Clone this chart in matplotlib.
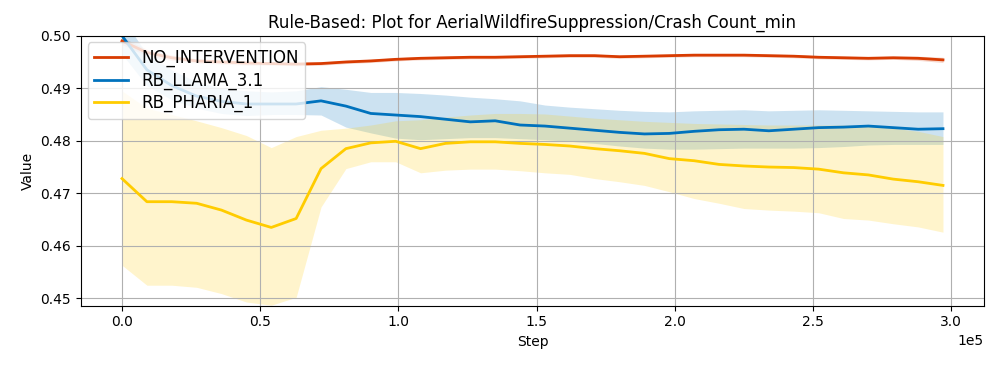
import numpy as np
import matplotlib.pyplot as plt

steps = np.arange(34) * 9000

# NO_INTERVENTION
no_mean = [0.4990, 0.4968, 0.4958, 0.4952, 0.4950, 0.4948, 0.4947, 0.4946, 0.4947, 0.4950,
           0.4952, 0.4955, 0.4957, 0.4958, 0.4959, 0.4959, 0.4960, 0.4961, 0.4962, 0.4962,
           0.4960, 0.4961, 0.4962, 0.4963, 0.4963, 0.4963, 0.4962, 0.4961, 0.4959, 0.4958,
           0.4957, 0.4958, 0.4957, 0.4954]
no_band = [0.0007, 0.0006, 0.0005, 0.0004, 0.0004, 0.0004, 0.0003, 0.0003, 0.0003, 0.0003,
           0.0003, 0.0003, 0.0003, 0.0003, 0.0003, 0.0003, 0.0003, 0.0003, 0.0003, 0.0003,
           0.0003, 0.0003, 0.0003, 0.0003, 0.0003, 0.0003, 0.0003, 0.0003, 0.0003, 0.0003,
           0.0003, 0.0003, 0.0004, 0.0005]

# RB_LLAMA_3.1
llama_mean = [0.5000, 0.4935, 0.4905, 0.4885, 0.4875, 0.4870, 0.4870, 0.4870, 0.4876, 0.4866,
              0.4852, 0.4849, 0.4846, 0.4841, 0.4836, 0.4838, 0.4830, 0.4828, 0.4824, 0.4820,
              0.4816, 0.4813, 0.4814, 0.4818, 0.4821, 0.4822, 0.4819, 0.4822, 0.4825, 0.4826,
              0.4828, 0.4825, 0.4822, 0.4823]
llama_low = [0.4965, 0.4905, 0.4878, 0.4862, 0.4852, 0.4848, 0.4850, 0.4850, 0.4849, 0.4826,
             0.4815, 0.4805, 0.4802, 0.4804, 0.4806, 0.4806, 0.4804, 0.4802, 0.4799, 0.4795,
             0.4790, 0.4786, 0.4784, 0.4784, 0.4785, 0.4786, 0.4786, 0.4786, 0.4787, 0.4789,
             0.4792, 0.4793, 0.4793, 0.4793]
llama_high = [0.5035, 0.4965, 0.4935, 0.4912, 0.4900, 0.4895, 0.4893, 0.4895, 0.4903, 0.4898,
              0.4892, 0.4892, 0.4890, 0.4887, 0.4883, 0.4880, 0.4876, 0.4868, 0.4864, 0.4861,
              0.4858, 0.4856, 0.4855, 0.4857, 0.4858, 0.4859, 0.4857, 0.4858, 0.4859, 0.4858,
              0.4857, 0.4856, 0.4855, 0.4855]

# RB_PHARIA_1
pharia_mean = [0.4728, 0.4684, 0.4684, 0.4681, 0.4668, 0.4649, 0.4635, 0.4652, 0.4747, 0.4785,
               0.4796, 0.4799, 0.4785, 0.4795, 0.4798, 0.4798, 0.4795, 0.4793, 0.4790, 0.4785,
               0.4781, 0.4776, 0.4766, 0.4762, 0.4755, 0.4752, 0.4750, 0.4749, 0.4746, 0.4739,
               0.4735, 0.4727, 0.4722, 0.4715]
pharia_low = [0.4563, 0.4525, 0.4525, 0.4521, 0.4509, 0.4493, 0.4487, 0.4502, 0.4674, 0.4747,
              0.4760, 0.4760, 0.4739, 0.4744, 0.4746, 0.4746, 0.4743, 0.4739, 0.4736, 0.4728,
              0.4722, 0.4715, 0.4703, 0.4690, 0.4681, 0.4671, 0.4668, 0.4666, 0.4663, 0.4652,
              0.4649, 0.4642, 0.4636, 0.4626]
pharia_high = [0.4895, 0.4862, 0.4850, 0.4838, 0.4825, 0.4810, 0.4787, 0.4808, 0.4820, 0.4824,
               0.4830, 0.4838, 0.4840, 0.4845, 0.4849, 0.4852, 0.4852, 0.4851, 0.4847, 0.4843,
               0.4840, 0.4837, 0.4835, 0.4833, 0.4832, 0.4831, 0.4830, 0.4830, 0.4830, 0.4830,
               0.4828, 0.4824, 0.4818, 0.4808]

fig = plt.figure(figsize=(9.97, 3.67), dpi=100)
ax = fig.add_axes([0.0812, 0.167, 0.9058, 0.7357])

no_mean = np.array(no_mean)
no_band = np.array(no_band)

ax.plot(steps, no_mean, color='#d83b01', linewidth=2, label='NO_INTERVENTION')
ax.fill_between(steps, no_mean - no_band, no_mean + no_band, color='#d83b01', alpha=0.2, linewidth=0)
ax.plot(steps, llama_mean, color='#0072bd', linewidth=2, label='RB_LLAMA_3.1')
ax.fill_between(steps, llama_low, llama_high, color='#0072bd', alpha=0.2, linewidth=0)
ax.plot(steps, pharia_mean, color='#ffcc00', linewidth=2, label='RB_PHARIA_1')
ax.fill_between(steps, pharia_low, pharia_high, color='#ffcc00', alpha=0.2, linewidth=0)

ax.set_ylim(0.4486, 0.5)
ax.ticklabel_format(axis='x', style='sci', scilimits=(0, 0))
ax.set_title('Rule-Based: Plot for AerialWildfireSuppression/Crash Count_min')
ax.set_xlabel('Step')
ax.set_ylabel('Value')
ax.grid(True)
ax.legend(loc='upper left', fontsize=12, labelspacing=0.25, borderaxespad=0.4)

fig.savefig('out.png', dpi=100)
